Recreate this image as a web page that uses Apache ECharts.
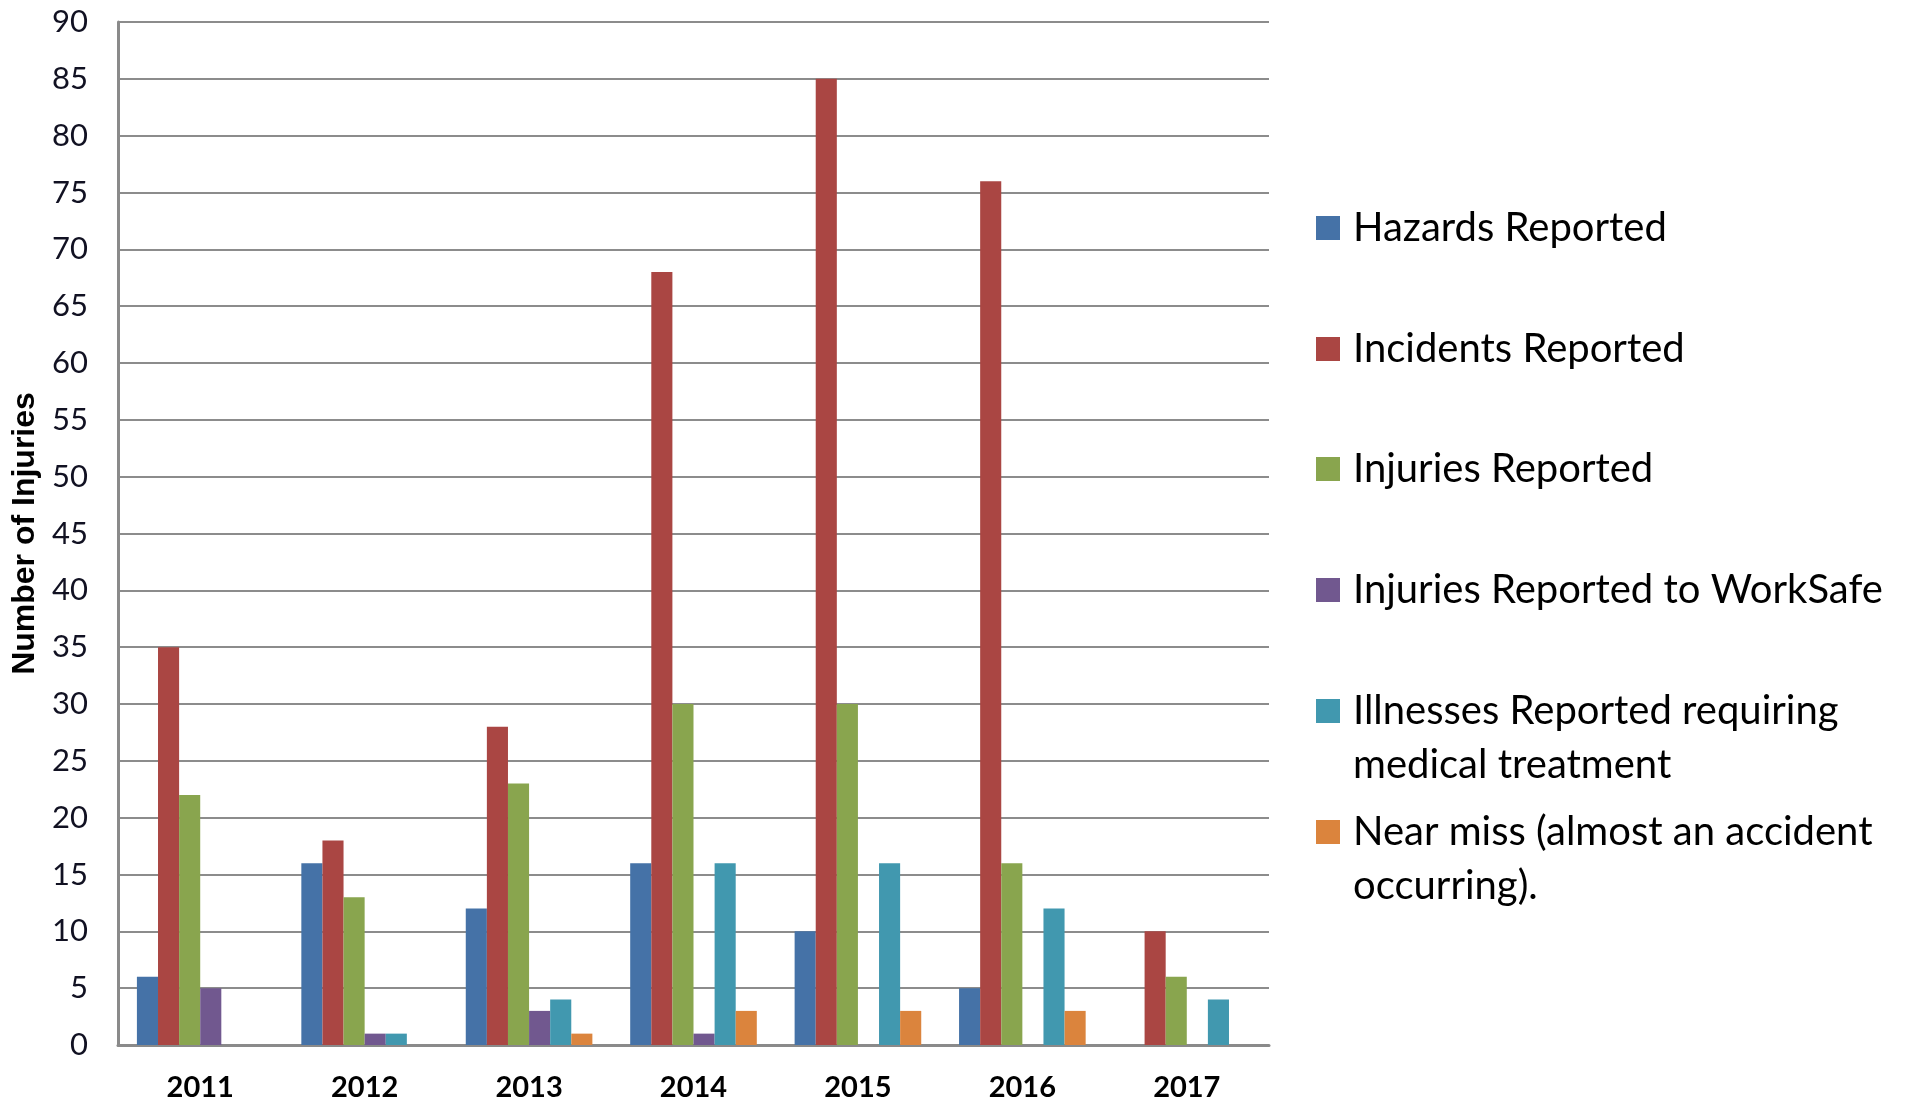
<!DOCTYPE html>
<html>
<head>
<meta charset="utf-8">
<script src="https://cdn.jsdelivr.net/npm/echarts@6/dist/echarts.min.js"></script>
<style>html,body{margin:0;padding:0;background:#fff}#c{width:1906px;height:1107px}</style>
</head>
<body>
<div id="c"></div>
<script>
const years = ['2011','2012','2013','2014','2015','2016','2017'];
const hazards   = [6, 16, 12, 16, 10, 5, 0];
const incidents = [35, 18, 28, 68, 85, 76, 10];
const injuries  = [22, 13, 23, 30, 30, 16, 6];
const workSafe  = [5, 1, 3, 1, 0, 0, 0];
const illnesses = [0, 1, 4, 16, 16, 12, 4];
const nearMiss  = [0, 0, 1, 3, 3, 3, 0];
const seriesNames = [
  'Hazards Reported',
  'Incidents Reported',
  'Injuries Reported',
  'Injuries Reported to WorkSafe',
  'Illnesses Reported requiring medical treatment',
  'Near miss (almost an accident occurring).'
];
const legendLabels = [
  'Hazards Reported',
  'Incidents Reported',
  'Injuries Reported',
  'Injuries Reported to WorkSafe',
  '\nIllnesses Reported requiring\nmedical treatment',
  '\nNear miss (almost an accident\noccurring).'
];
const seriesData = [hazards, incidents, injuries, workSafe, illnesses, nearMiss];
const colors = ['#4572A7','#AA4643','#89A54E','#71588F','#4198AF','#DB843D'];
const legendCenters = [228, 349, 469, 590, 711, 832];

const LH = 54;
const legends = seriesNames.map((n, i) => {
  const lines = legendLabels[i].split('\n').length;
  return {
    data: [n],
    orient: 'vertical',
    left: 1316,
    top: legendCenters[i] - lines * LH / 2,
    padding: 0,
    itemWidth: 24,
    itemHeight: 24,
    icon: 'rect',
    selectedMode: false,
    formatter: () => legendLabels[i],
    textStyle: {
      fontFamily: 'Lato',
      fontSize: 40,
      color: '#000',
      lineHeight: LH,
      padding: [0, 0, 0, 8]
    }
  };
});

const chart = echarts.init(document.getElementById('c'));
chart.setOption({
  animation: false,
  color: colors,
  legend: legends,
  grid: { left: 118, top: 22, right: 637, bottom: 62, containLabel: false, outerBoundsMode: 'none' },
  xAxis: {
    type: 'category',
    data: years,
    axisLine: { lineStyle: { color: '#8a8a8a', width: 3 } },
    axisTick: { show: false },
    axisLabel: { fontFamily: 'Lato', fontWeight: 'bold', fontSize: 29, color: '#000', margin: 28 }
  },
  yAxis: {
    type: 'value',
    min: 0, max: 90, interval: 5,
    name: 'Number of Injuries',
    nameLocation: 'middle',
    nameGap: 67,
    nameTextStyle: { fontFamily: 'Liberation Sans', fontWeight: 'bold', fontSize: 32, color: '#000' },
    axisLine: { show: true, lineStyle: { color: '#8a8a8a', width: 3 } },
    axisTick: { show: false },
    splitLine: { lineStyle: { color: '#8c8c8c', width: 2 } },
    axisLabel: { fontFamily: 'Lato', fontSize: 31, color: '#111122', margin: 30 }
  },
  series: seriesNames.map((n, i) => ({
    name: n,
    type: 'bar',
    data: seriesData[i],
    barGap: '0%',
    barCategoryGap: '23%'
  }))
});
</script>
</body>
</html>
